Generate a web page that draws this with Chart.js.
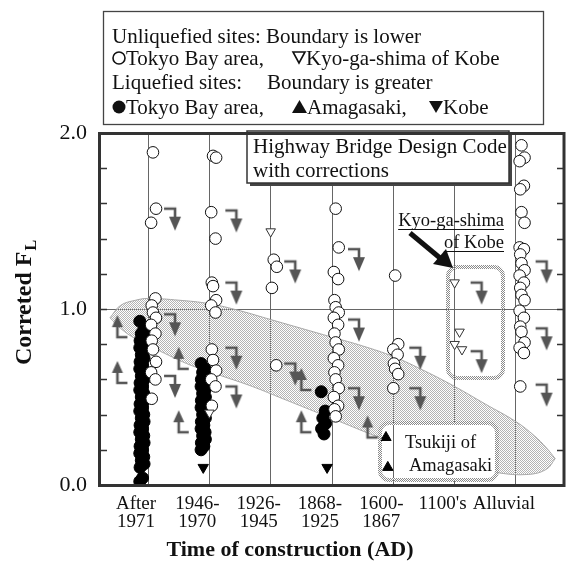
<!DOCTYPE html>
<html>
<head>
<meta charset="utf-8">
<script src="https://cdn.jsdelivr.net/npm/chart.js@4/dist/chart.umd.min.js"></script>
<style>
  html, body { margin: 0; padding: 0; background: #fff; }
  #wrap { width: 572px; height: 563px; }
</style>
</head>
<body>
<div id="wrap"><canvas id="flChart" width="572" height="563"></canvas></div>
<script>
// categories (time of construction), one label per vertical line
const categories = [['After', '1971'], ['1946-', '1970'], ['1926-', '1945'], ['1868-', '1925'], ['1600-', '1867'], ["1100's"], ['Alluvial']];
const yTickLabels = [0, 0.5, 1.0, 1.5, 2.0];

// unliquefied sites, Tokyo Bay area (open circles), corrected FL per category
const tokyoUnliq = [
  [1.89, 1.57, 1.49, 1.06, 1.02, 0.98, 0.95, 0.91, 0.86, 0.82, 0.77, 0.70, 0.64, 0.60, 0.49],
  [1.87, 1.86, 1.55, 1.40, 1.15, 1.13, 1.05, 1.02, 0.98, 0.77, 0.71, 0.65, 0.60, 0.56, 0.45],
  [1.28, 1.24, 1.12, 0.68],
  [1.57, 1.35, 1.21, 1.17, 1.05, 1.01, 0.98, 0.95, 0.91, 0.86, 0.81, 0.77, 0.72, 0.68, 0.64, 0.60, 0.55, 0.50, 0.45, 0.43, 0.39],
  [1.19, 0.80, 0.77, 0.74, 0.69, 0.66, 0.63, 0.55],
  [],
  [1.93, 1.86, 1.84, 1.70, 1.68, 1.55, 1.49, 1.35, 1.34, 1.31, 1.26, 1.22, 1.19, 1.15, 1.12, 1.08, 1.05, 0.99, 0.95, 0.90, 0.87, 0.81, 0.78, 0.75, 0.56]
];
// unliquefied sites, Kyo-ga-shima of Kobe (open down triangles)
const kyogashimaUnliq = [[], [0.41], [1.44], [], [], [1.15, 0.87, 0.80, 0.77], []];

// liquefied sites, Tokyo Bay area (filled circles)
const tokyoLiq = [
  [0.93, 0.88, 0.86, 0.84, 0.82, 0.80, 0.78, 0.76, 0.74, 0.72, 0.70, 0.68, 0.66, 0.64, 0.62, 0.60, 0.58, 0.56, 0.54, 0.52,
   0.50, 0.48, 0.46, 0.44, 0.42, 0.40, 0.38, 0.36, 0.34, 0.32, 0.30, 0.28, 0.26, 0.24, 0.22, 0.20, 0.18, 0.16, 0.14, 0.12, 0.10, 0.04, 0.02],
  [0.69, 0.66, 0.64, 0.62, 0.60, 0.58, 0.56, 0.54, 0.52, 0.50, 0.48, 0.46, 0.44, 0.42, 0.40, 0.38, 0.36, 0.34, 0.32, 0.30,
   0.28, 0.26, 0.24, 0.22, 0.20],
  [],
  [0.53, 0.42, 0.38, 0.35, 0.32, 0.29],
  [], [], []
];
// liquefied sites, Amagasaki (filled up triangles) and Kobe (filled down triangles)
const amagasakiLiq = [[], [], [], [], [0.27, 0.10], [], []];
const kobeLiq = [[], [0.10], [], [0.10], [], [], []];

// boundary arrows: unliquefied -> boundary is lower, liquefied -> boundary is greater
const boundaryLower = [[1.57, 0.97, 0.62], [1.56, 1.15, 0.78, 0.56], [1.27, 0.69], [1.34, 0.94, 0.55], [0.78, 0.55], [1.15, 0.76], [1.27, 0.89, 0.57]];
const boundaryGreater = [[0.84, 0.58], [0.66, 0.30], [], [0.54, 0.30], [0.27], [], []];

// shaded band (Highway Bridge Design Code with corrections), upper and lower edge
const bandUpperX = [-0.62, -0.45, -0.2, 0, 0.5, 1, 1.5, 2, 2.5, 3, 3.5, 4, 4.5, 5, 5.5, 6, 6.3, 6.5, 6.64];
const bandUpperY = [0.95, 1.02, 1.05, 1.06, 1.05, 1.03, 0.99, 0.94, 0.89, 0.84, 0.79, 0.73, 0.65, 0.56, 0.46, 0.36, 0.28, 0.21, 0.15];
const bandLowerX = [-0.62, -0.45, -0.2, 0.2, 0.7, 1.2, 1.7, 2.2, 2.7, 3.2, 3.7, 4.2, 4.7, 5.2, 5.7, 6.2, 6.5, 6.64];
const bandLowerY = [0.95, 0.89, 0.83, 0.76, 0.68, 0.62, 0.56, 0.49, 0.42, 0.35, 0.28, 0.22, 0.16, 0.11, 0.07, 0.06, 0.09, 0.15];

const SERIF = "'Liberation Serif', 'Times New Roman', serif";
Chart.defaults.font.family = SERIF;
Chart.defaults.color = '#111';

function toPoints(byCat, base, jit) {
  const out = [];
  byCat.forEach((vals, c) => vals.forEach((v, i) => out.push({ x: c + base[c] + jit[i % jit.length], y: v })));
  return out;
}

function checker(color) {
  const c = document.createElement('canvas');
  c.width = 2; c.height = 2;
  const g = c.getContext('2d');
  g.fillStyle = color;
  g.fillRect(0, 0, 1, 1);
  g.fillRect(1, 1, 1, 1);
  return g.createPattern(c, 'repeat');
}

// bent gray arrows used as point styles, centred on the boundary level
function makeArrow(down) {
  const c = document.createElement('canvas');
  c.width = 40; c.height = 50;
  const g = c.getContext('2d');
  g.strokeStyle = '#555'; g.fillStyle = '#555'; g.lineWidth = 2.6;
  g.beginPath();
  if (down) {
    g.moveTo(9, 25); g.lineTo(20, 25); g.lineTo(20, 35);
    g.stroke();
    g.beginPath(); g.moveTo(14, 33); g.lineTo(26, 33); g.lineTo(20, 47); g.closePath(); g.fill();
  } else {
    g.moveTo(30, 25); g.lineTo(20, 25); g.lineTo(20, 13);
    g.stroke();
    g.beginPath(); g.moveTo(14.5, 15); g.lineTo(25.5, 15); g.lineTo(20, 3); g.closePath(); g.fill();
  }
  return c;
}

const ctx = document.getElementById('flChart');
const hatch = checker('#b4b4b4');
const boxHatch = checker('#8a8a8a');

const decor = {
  id: 'decor',
  beforeDraw(chart) {
    const g = chart.ctx;
    g.save(); g.fillStyle = '#fff'; g.fillRect(0, 0, chart.width, chart.height); g.restore();
  },
  afterDatasetDraw(chart, args) {
    if (args.index !== 0) return;
    // white box for Tsukiji of Amagasaki over the band
    const g = chart.ctx, xs = chart.scales.x;
    g.save();
    g.beginPath(); g.roundRect(380, 423, 117, 57, 9);
    g.fillStyle = '#fff'; g.fill();
    g.strokeStyle = '#666'; g.lineWidth = 1;
    const lx = Math.round(xs.getPixelForValue(4)) + 0.5;
    g.beginPath(); g.moveTo(lx, 425); g.lineTo(lx, 478); g.stroke();
    g.restore();
  },
  afterDatasetsDraw(chart) {
    const g = chart.ctx, a = chart.chartArea, ys = chart.scales.y;
    g.save();
    // box outlines (hatched)
    g.strokeStyle = boxHatch; g.lineWidth = 4;
    g.beginPath(); g.roundRect(380, 423, 117, 57, 9); g.stroke();
    g.beginPath(); g.roundRect(448, 267, 55, 111, 9); g.stroke();

    g.fillStyle = '#111';
    g.font = '18.5px ' + SERIF;
    g.textAlign = 'left'; g.textBaseline = 'alphabetic';
    g.fillText('Tsukiji of', 405, 448);
    g.fillText('Amagasaki', 409, 471);

    // Kyo-ga-shima label, underlined
    g.textAlign = 'right';
    g.fillText('Kyo-ga-shima', 504, 226);
    g.fillText('of Kobe', 504, 248);
    g.strokeStyle = '#111'; g.lineWidth = 1;
    let w = g.measureText('Kyo-ga-shima').width;
    g.beginPath(); g.moveTo(504 - w, 229.5); g.lineTo(504, 229.5); g.stroke();
    w = g.measureText('of Kobe').width;
    g.beginPath(); g.moveTo(504 - w, 251.5); g.lineTo(504, 251.5); g.stroke();

    // black pointer arrow
    g.lineWidth = 5; g.lineCap = 'butt';
    g.beginPath(); g.moveTo(410, 233); g.lineTo(440, 258); g.stroke();
    g.beginPath(); g.moveTo(433, 264); g.lineTo(446, 249); g.lineTo(453, 268); g.closePath(); g.fill();

    // Highway Bridge Design Code box with shadow
    g.fillStyle = '#444';
    g.fillRect(250, 134, 262, 52);
    g.fillStyle = '#fff';
    g.fillRect(247, 131, 262, 52);
    g.strokeStyle = '#333'; g.lineWidth = 1.5;
    g.strokeRect(247, 131, 262, 52);
    g.fillStyle = '#111';
    g.textAlign = 'left';
    g.font = '21px ' + SERIF;
    g.fillText('Highway Bridge Design Code', 253, 153);
    g.fillText('with corrections', 253, 177);

    // frame
    g.strokeStyle = '#333'; g.lineWidth = 3;
    g.strokeRect(a.left + 0.5, a.top + 0.5, a.right - a.left - 1.5, a.bottom - a.top);
    // inward minor ticks on both sides
    g.lineWidth = 1.6;
    ys.ticks.forEach(t => {
      if (t.value <= 0 || t.value >= 2) return;
      const y = Math.round(ys.getPixelForValue(t.value)) + 0.5;
      g.beginPath();
      g.moveTo(a.left, y); g.lineTo(a.left + 8, y);
      g.moveTo(a.right - 8, y); g.lineTo(a.right, y);
      g.stroke();
    });
    g.restore();
  },
  afterDraw(chart) {
    const g = chart.ctx;
    g.save();
    // legend box
    g.fillStyle = '#fff';
    g.fillRect(103, 11, 440, 114);
    g.strokeStyle = '#444'; g.lineWidth = 1.3;
    g.strokeRect(103.5, 11.5, 440, 113);
    g.fillStyle = '#111';
    g.font = '21px ' + SERIF;
    g.textAlign = 'left'; g.textBaseline = 'alphabetic';
    g.fillText('Unliquefied sites: Boundary is lower', 112, 43);
    g.fillText('Tokyo Bay area,', 126, 65);
    g.fillText('Kyo-ga-shima of Kobe', 306, 65);
    g.fillText('Liquefied sites:', 112, 89);
    g.fillText('Boundary is greater', 267, 89);
    g.fillText('Tokyo Bay area,', 126, 114);
    g.fillText('Amagasaki,', 307, 114);
    g.fillText('Kobe', 443, 114);
    // legend symbols
    g.lineWidth = 1.6; g.strokeStyle = '#111';
    g.beginPath(); g.arc(119, 58, 6, 0, Math.PI * 2); g.stroke();
    g.beginPath(); g.moveTo(293, 52); g.lineTo(305, 52); g.lineTo(299, 63); g.closePath(); g.stroke();
    g.beginPath(); g.arc(119, 107, 6.5, 0, Math.PI * 2); g.fill();
    g.beginPath(); g.moveTo(292, 113); g.lineTo(307, 113); g.lineTo(299.5, 100); g.closePath(); g.fill();
    g.beginPath(); g.moveTo(429, 101); g.lineTo(443, 101); g.lineTo(436, 113); g.closePath(); g.fill();

    // axis titles
    g.font = 'bold 22px ' + SERIF;
    g.textAlign = 'center';
    g.fillText('Time of construction (AD)', 290, 556);
    g.translate(25, 303);
    g.rotate(-Math.PI / 2);
    g.textAlign = 'left'; g.textBaseline = 'middle';
    const main = 'Correted F';
    g.font = 'bold 24px ' + SERIF;
    const w1 = g.measureText(main).width;
    g.font = 'bold 16px ' + SERIF;
    const w2 = g.measureText('L').width;
    const x0 = -(w1 + w2) / 2;
    g.font = 'bold 24px ' + SERIF;
    g.fillText(main, x0, 0);
    g.font = 'bold 16px ' + SERIF;
    g.fillText('L', x0 + w1 + 1, 7);
    g.restore();
  }
};

const bandUpper = bandUpperX.map((x, i) => ({ x, y: bandUpperY[i] }));
const bandLower = bandLowerX.map((x, i) => ({ x, y: bandLowerY[i] }));

new Chart(ctx, {
  type: 'scatter',
  data: {
    datasets: [
      { label: 'band upper', data: bandUpper, showLine: true, pointRadius: 0, borderColor: '#a8a8a8', borderWidth: 1,
        backgroundColor: hatch, fill: '+1', tension: 0.4, order: 100 },
      { label: 'band lower', data: bandLower, showLine: true, pointRadius: 0, borderColor: '#a8a8a8', borderWidth: 1,
        fill: false, tension: 0.4, order: 100 },
      { label: 'Boundary is lower', data: toPoints(boundaryLower, [0.44, 0.44, 0.4, 0.44, 0.44, 0.44, 0.5], [0]),
        pointStyle: makeArrow(true), pointRadius: 6, order: 5 },
      { label: 'Boundary is greater', data: toPoints(boundaryGreater, [-0.5, -0.5, -0.5, -0.5, -0.42, 0, 0], [0]),
        pointStyle: makeArrow(false), pointRadius: 6, order: 5 },
      { label: 'Tokyo Bay area (liquefied)', data: toPoints(tokyoLiq, [-0.1, -0.1, 0, -0.14, 0, 0, 0], [-0.035, 0.03, -0.01, 0.035, -0.03, 0.01]),
        pointStyle: 'circle', pointRadius: 6, backgroundColor: '#000', borderColor: '#000', borderWidth: 1, order: 3 },
      { label: 'Tokyo Bay area (unliquefied)', data: toPoints(tokyoUnliq, [0.08, 0.06, 0.05, 0.06, 0.03, 0, 0.09], [0, 0.05, -0.03, 0.04, -0.02]),
        pointStyle: 'circle', pointRadius: 5.8, backgroundColor: '#fff', borderColor: '#111', borderWidth: 1, order: 2 },
      { label: 'Kyo-ga-shima of Kobe', data: toPoints(kyogashimaUnliq, [0, 0.04, 0.04, 0, 0, 0.04, 0], [-0.04, 0.04, -0.04, 0.08]),
        pointStyle: 'triangle', rotation: 180, pointRadius: 5.5, backgroundColor: '#fff', borderColor: '#333', borderWidth: 1, order: 1 },
      { label: 'Amagasaki', data: toPoints(amagasakiLiq, [0, 0, 0, 0, -0.12, 0, 0], [0, 0.03]),
        pointStyle: 'triangle', pointRadius: 6, backgroundColor: '#000', borderColor: '#000', borderWidth: 1, order: 1 },
      { label: 'Kobe', data: toPoints(kobeLiq, [0, -0.1, 0, -0.08, 0, 0, 0], [0]),
        pointStyle: 'triangle', rotation: 180, pointRadius: 6, backgroundColor: '#000', borderColor: '#000', borderWidth: 1, order: 1 }
    ]
  },
  options: {
    responsive: false,
    animation: false,
    events: [],
    layout: { padding: { top: 133, right: 1, left: 0, bottom: 0 } },
    plugins: { legend: { display: false }, tooltip: { enabled: false } },
    scales: {
      x: {
        type: 'linear', min: -0.8, max: 6.8,
        afterFit: s => { s.height = 78; },
        afterBuildTicks: s => { s.ticks = categories.map((c, i) => ({ value: i })); },
        border: { display: false },
        grid: { color: '#666', lineWidth: 1, drawTicks: false },
        ticks: {
          autoSkip: false, maxRotation: 0, padding: 10, labelOffset: -12,
          font: { size: 19, lineHeight: 0.95 },
          callback: v => categories[v]
        }
      },
      y: {
        min: 0, max: 2,
        afterFit: s => { s.width = 99; },
        border: { display: false },
        grid: {
          drawTicks: false, lineWidth: 1,
          color: c => {
            const v = c.tick.value;
            return Math.abs(v * 2 - Math.round(v * 2)) < 1e-6 && v > 0 && v < 2 ? '#666' : 'rgba(0,0,0,0)';
          }
        },
        ticks: {
          stepSize: 0.1, padding: 12,
          font: { size: 22 },
          callback: v => yTickLabels.some(t => Math.abs(t - v) < 1e-6) ? v.toFixed(1) : ''
        }
      }
    }
  },
  plugins: [decor]
});
</script>
</body>
</html>
